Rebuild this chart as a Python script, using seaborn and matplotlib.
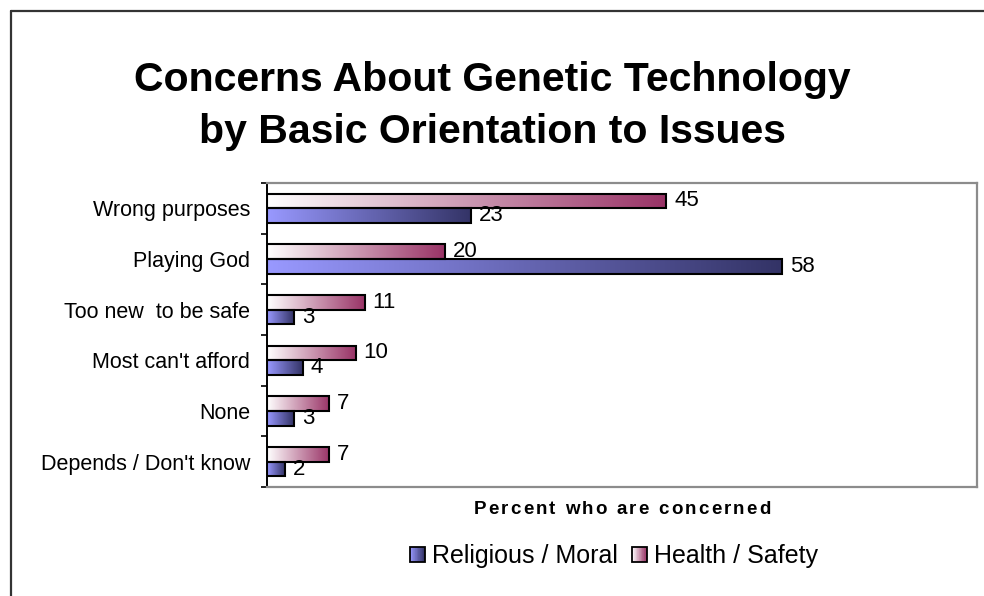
import numpy as np
import pandas as pd
import matplotlib
matplotlib.use("Agg")
import matplotlib.pyplot as plt
import seaborn as sns
from matplotlib.colors import LinearSegmentedColormap
from matplotlib.patches import Rectangle
from matplotlib.lines import Line2D
from matplotlib.legend_handler import HandlerBase

# --- data -------------------------------------------------------------
categories = ["Wrong purposes", "Playing God", "Too new  to be safe",
              "Most can't afford", "None", "Depends / Don't know"]
religious_moral = [23, 58, 3, 4, 3, 2]
health_safety = [45, 20, 11, 10, 7, 7]
series_names = ["Religious / Moral", "Health / Safety"]

title_lines = ["Concerns About Genetic Technology",
               "by Basic Orientation to Issues"]
x_label = "Percent who are concerned"

df = pd.DataFrame({
    "category": categories * 2,
    "group": [series_names[0]] * len(categories) + [series_names[1]] * len(categories),
    "value": religious_moral + health_safety,
})

# --- style ------------------------------------------------------------
sns.set_theme(style="white")
plt.rcParams["font.family"] = ["Liberation Sans", "DejaVu Sans"]
plt.rcParams["text.color"] = "black"
plt.rcParams["axes.labelcolor"] = "black"
plt.rcParams["xtick.color"] = "black"
plt.rcParams["ytick.color"] = "black"

cmaps = {
    "Religious / Moral": LinearSegmentedColormap.from_list("rel", ["#9999FF", "#333366"]),
    "Health / Safety": LinearSegmentedColormap.from_list("hs", ["#FFFFFF", "#993366"]),
}

fig = plt.figure(figsize=(9.84, 5.96), dpi=100)
ax = fig.add_axes([267 / 984, 1 - 487 / 596, (977 - 267) / 984, (487 - 183) / 596])

hue_order = ["Health / Safety", "Religious / Moral"]
sns.barplot(data=df, y="category", x="value", hue="group", hue_order=hue_order,
            order=categories, orient="h", width=0.58, ax=ax, legend=False,
            palette=["#993366", "#9999FF"], saturation=1)

grad = np.linspace(0, 1, 256).reshape(1, -1)
for level, container in zip(hue_order, ax.containers):
    for bar in container:
        x0, y0 = bar.get_x(), bar.get_y()
        w, h = bar.get_width(), bar.get_height()
        ax.imshow(grad, cmap=cmaps[level], aspect="auto", interpolation="bilinear",
                  extent=[x0, x0 + w, y0 + h, y0], zorder=2)
        bar.set_facecolor("none")
        bar.set_edgecolor("black")
        bar.set_linewidth(1.5)
        bar.set_zorder(3)
        ax.text(x0 + w + 0.9, y0 + h / 2, f"{w:g}", va="center", ha="left",
                fontsize=16, color="black", zorder=4)

ax.set_xlim(0, 80)
ax.set_ylim(len(categories) - 0.5, -0.5)
ax.set_xticks([])
ax.set_xlabel("")
ax.set_ylabel("")
ax.set_yticks(range(len(categories)))
ax.set_yticklabels(categories, fontsize=15.5, color="black")
ax.set_yticks(np.arange(-0.5, len(categories), 1), minor=True)
ax.tick_params(axis="y", which="major", length=0, pad=12)
ax.tick_params(axis="y", which="minor", length=4, width=1.2, color="black",
               direction="out", left=True)

for side in ["top", "right", "bottom"]:
    ax.spines[side].set_color("#8C8C8C")
    ax.spines[side].set_linewidth(1.6)
ax.spines["left"].set_color("black")
ax.spines["left"].set_linewidth(1.4)
for s in ax.spines.values():
    s.set_visible(True)

# --- title ------------------------------------------------------------
fig.text(0.5, 1 - 91 / 596, title_lines[0], ha="center", va="baseline",
         fontsize=29.5, fontweight="bold", color="black")
fig.text(0.5, 1 - 143 / 596, title_lines[1], ha="center", va="baseline",
         fontsize=29.5, fontweight="bold", color="black")

# --- x label with widened letter spacing ------------------------------
fig.canvas.draw()
renderer = fig.canvas.get_renderer()
label_size = 13.5
spacing_px = 2.2


def text_width(s):
    t = fig.text(0, 0, s, fontsize=label_size, fontweight="bold")
    wpx = t.get_window_extent(renderer).width
    t.remove()
    return wpx


space_w = text_width("a a") - text_width("aa")
pieces = [(ch, space_w if ch == " " else text_width(ch)) for ch in x_label]
total = sum(w for _, w in pieces) + spacing_px * (len(x_label) - 1)
xpos = (267 + 977) / 2 - total / 2
for ch, wpx in pieces:
    if ch != " ":
        fig.text(xpos / 984, 1 - 514 / 596, ch, fontsize=label_size, fontweight="bold",
                 ha="left", va="baseline", color="black")
    xpos += wpx + spacing_px


# --- legend with gradient swatches ------------------------------------
class GradientSwatch(HandlerBase):
    def __init__(self, cmap, steps=24):
        super().__init__()
        self.cmap = cmap
        self.steps = steps

    def create_artists(self, legend, orig_handle, xdescent, ydescent,
                       width, height, fontsize, trans):
        side = min(width, height)
        y0 = -ydescent + (height - side) / 2
        x0 = -xdescent
        arts = []
        for i in range(self.steps):
            arts.append(Rectangle((x0 + side * i / self.steps, y0), side / self.steps, side,
                                  facecolor=self.cmap(i / (self.steps - 1)),
                                  edgecolor="none", transform=trans))
        arts.append(Rectangle((x0, y0), side, side, facecolor="none",
                              edgecolor="black", linewidth=1.3, transform=trans))
        return arts


handles = [Rectangle((0, 0), 1, 1) for _ in series_names]
fig.legend(handles, series_names, loc="center", ncol=2,
           bbox_to_anchor=(614 / 984, 1 - 556 / 596), frameon=False, fontsize=18,
           handlelength=0.6, handleheight=0.6, handletextpad=0.3, columnspacing=0.55,
           handler_map={handles[0]: GradientSwatch(cmaps[series_names[0]]),
                        handles[1]: GradientSwatch(cmaps[series_names[1]])})

# --- outer frame ------------------------------------------------------
fig.add_artist(Line2D([11 / 984, 11 / 984], [0, 1 - 11 / 596], color="#333333",
                      linewidth=1.6, transform=fig.transFigure))
fig.add_artist(Line2D([11 / 984, 1], [1 - 11 / 596, 1 - 11 / 596], color="#333333",
                      linewidth=1.6, transform=fig.transFigure))

fig.savefig("out.png", dpi=100)
